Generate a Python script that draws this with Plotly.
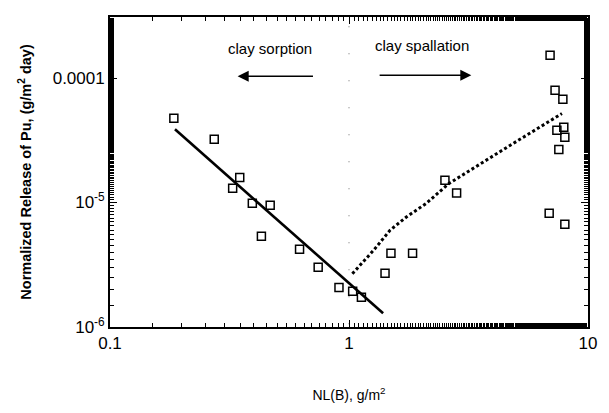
import numpy as np
import plotly.graph_objects as go

# measured data (NL(B) in g/m^2, normalized release in g/m^2/day)
nl_b = [0.185, 0.273, 0.349, 0.326, 0.394, 0.468, 0.430, 0.621, 0.743, 0.908,
        1.036, 1.127, 1.498, 1.845, 1.415, 2.52, 2.82, 6.88, 8.0,
        6.94, 7.28, 7.85, 7.41, 7.92, 8.0, 7.55]
release = [4.74e-5, 3.22e-5, 1.59e-5, 1.30e-5, 9.86e-6, 9.5e-6, 5.35e-6, 4.21e-6, 3.02e-6, 2.08e-6,
           1.94e-6, 1.73e-6, 3.91e-6, 3.91e-6, 2.70e-6, 1.51e-5, 1.19e-5, 8.19e-6, 6.68e-6,
           1.52e-4, 7.96e-5, 6.75e-5, 3.80e-5, 4.02e-5, 3.34e-5, 2.67e-5]

# clay sorption fit (solid)
sorption_x = [0.187, 1.389]
sorption_y = [3.87e-5, 1.29e-6]

# clay spallation fit (dotted)
spall_x = [1.033, 1.267, 1.484, 1.738, 2.10, 2.618, 4.696, 7.78]
spall_y = [2.68e-6, 4.13e-6, 5.98e-6, 7.65e-6, 9.8e-6, 1.42e-5, 2.86e-5, 5.18e-5]

# divider at NL(B)=1
divider_x = [1.0, 1.0]
divider_y = [1.05e-6, 2.9e-4]

x_ticks = [0.1, 1, 10]
x_ticktext = ["0.1", "1", "10"]
y_ticks = [1e-6, 1e-5, 1e-4]
y_ticktext = ["10<sup>-6</sup>", "10<sup>-5</sup>", "0.0001"]

FONT = "Liberation Sans, Arial, sans-serif"

fig = go.Figure()

fig.add_trace(go.Scatter(x=divider_x, y=divider_y, mode="lines",
                         line=dict(color="#888888", width=1.2, dash="1px,26px"),
                         showlegend=False, hoverinfo="skip"))
fig.add_trace(go.Scatter(x=sorption_x, y=sorption_y, mode="lines",
                         line=dict(color="black", width=2.6), showlegend=False))
fig.add_trace(go.Scatter(x=spall_x, y=spall_y, mode="lines",
                         line=dict(color="black", width=3, dash="3px,2.5px"), showlegend=False))
fig.add_trace(go.Scatter(x=nl_b, y=release, mode="markers",
                         marker=dict(symbol="square-open", size=8, color="black",
                                     line=dict(width=1.5, color="black")),
                         showlegend=False))

# arrows and labels (annotation coordinates on log axes are log10 values)
ann = []
ann.append(dict(x=np.log10(0.342), y=-3.986, ax=np.log10(0.717), ay=-3.986,
                xref="x", yref="y", axref="x", ayref="y", text="", showarrow=True,
                arrowhead=2, arrowsize=1.7, arrowwidth=1.3, arrowcolor="black"))
ann.append(dict(x=np.log10(3.25), y=-3.978, ax=np.log10(1.324), ay=-3.978,
                xref="x", yref="y", axref="x", ayref="y", text="", showarrow=True,
                arrowhead=2, arrowsize=1.7, arrowwidth=1.3, arrowcolor="black"))
ann.append(dict(x=-0.33, y=-3.761, xref="x", yref="y", text="clay sorption",
                showarrow=False, font=dict(family=FONT, size=15, color="black")))
ann.append(dict(x=0.307, y=-3.737, xref="x", yref="y", text="clay spallation",
                showarrow=False, font=dict(family=FONT, size=15, color="black")))

fig.update_layout(
    width=609, height=413,
    margin=dict(l=110, r=12, t=17, b=86),
    paper_bgcolor="white", plot_bgcolor="white",
    font=dict(family=FONT, color="black"),
    annotations=ann,
    xaxis=dict(type="log", range=[-1, 1], tickvals=x_ticks, ticktext=x_ticktext,
               ticks="inside", ticklen=7, tickwidth=1.2, tickcolor="black",
               minor=dict(ticks="inside", ticklen=4, tickcolor="black", showgrid=False),
               showline=True, linecolor="black", linewidth=1.8, mirror="ticks",
               showgrid=False, zeroline=False,
               tickfont=dict(family=FONT, size=17, color="black"),
               title=dict(text="NL(B), g/m<sup>2</sup>", standoff=38,
                          font=dict(family=FONT, size=14, color="black"))),
    yaxis=dict(type="log", range=[-6, -3.51], tickvals=y_ticks, ticktext=y_ticktext,
               ticks="inside", ticklen=7, tickwidth=1.2, tickcolor="black",
               minor=dict(ticks="inside", ticklen=4, tickcolor="black", showgrid=False),
               showline=True, linecolor="black", linewidth=1.8, mirror="ticks",
               showgrid=False, zeroline=False,
               tickfont=dict(family=FONT, size=17, color="black"),
               title=dict(text="<b>Normalized Release of Pu, (g/m<sup>2</sup> day)</b>",
                          standoff=18, font=dict(family=FONT, size=14.5, color="black"))),
)

fig.write_html("out.html")
